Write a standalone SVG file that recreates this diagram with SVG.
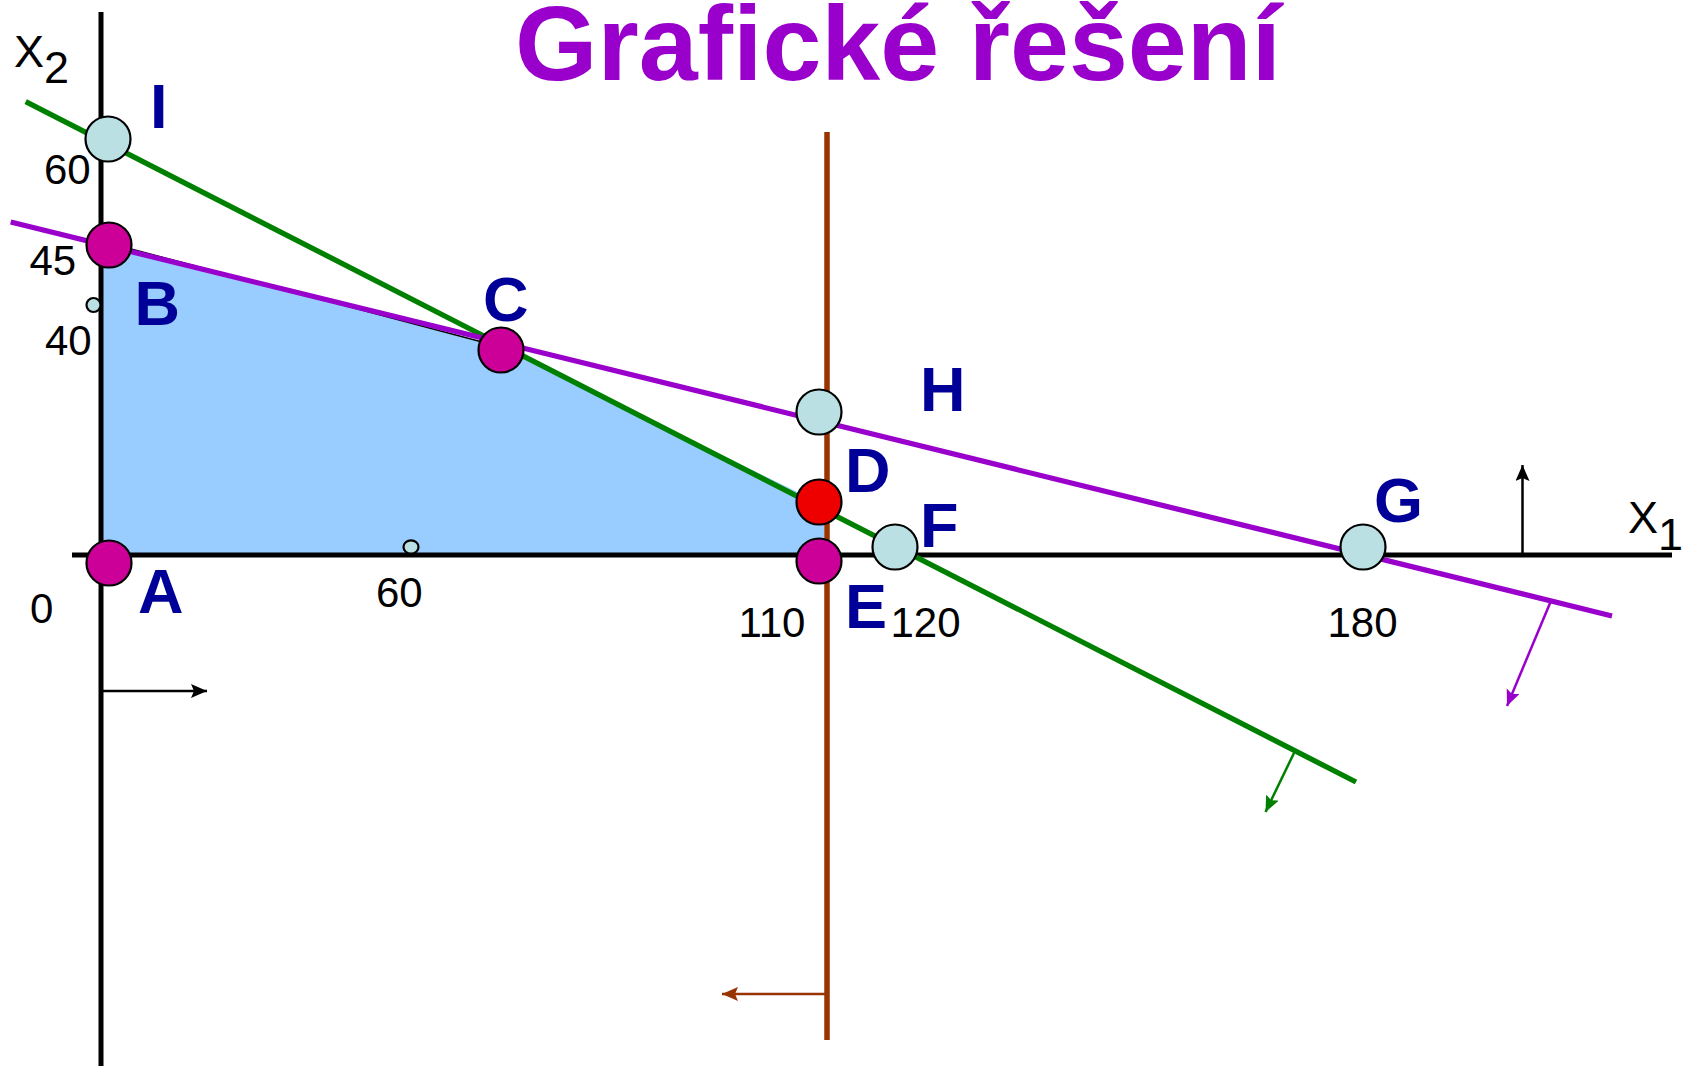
<svg xmlns="http://www.w3.org/2000/svg" width="1683" height="1066" viewBox="0 0 1683 1066">
<style>
.axis{stroke:#000;stroke-width:5;fill:none}
.lbl{font-family:"Liberation Sans",Arial,sans-serif;font-weight:bold;font-size:63px;fill:#000099}
.tick{font-family:"Liberation Sans",Arial,sans-serif;font-size:42px;fill:#000}
.ax{font-family:"Liberation Sans",Arial,sans-serif;font-size:45px;fill:#000}
.pt{stroke:#000;stroke-width:2.2}
.cyan{fill:#BBE0E3}
.mag{fill:#CC0099}
.red{fill:#EE0000}
</style>
<defs>
<marker id="mBlack" markerUnits="userSpaceOnUse" markerWidth="18" markerHeight="16" refX="16" refY="7" orient="auto"><path d="M0,0 L16,7 L0,14 L3,7 z" fill="#000"/></marker>
<marker id="mBrown" markerUnits="userSpaceOnUse" markerWidth="18" markerHeight="16" refX="16" refY="7" orient="auto"><path d="M0,0 L16,7 L0,14 L3,7 z" fill="#993300"/></marker>
<marker id="mGreen" markerUnits="userSpaceOnUse" markerWidth="18" markerHeight="16" refX="16" refY="7" orient="auto"><path d="M0,0 L16,7 L0,14 L3,7 z" fill="#008000"/></marker>
<marker id="mPurple" markerUnits="userSpaceOnUse" markerWidth="18" markerHeight="16" refX="16" refY="7" orient="auto"><path d="M0,0 L16,7 L0,14 L3,7 z" fill="#9900CC"/></marker>
</defs>
<rect width="1683" height="1066" fill="#fff"/>
<text x="898" y="80" text-anchor="middle" font-family="Liberation Sans, Arial, sans-serif" font-weight="bold" font-size="106" fill="#9900CC">Grafické řešení</text>
<g id="feasible-region">
<polygon points="101,555 101,241 501,347 824,505 824,555" fill="#99CCFF"/>
<line x1="101" y1="241" x2="501" y2="347" stroke="#000" stroke-width="1.5"/>
</g>
<g id="connectors">
<line class="axis" x1="101" y1="12" x2="101" y2="1066"/>
<line class="axis" x1="72" y1="555" x2="1672" y2="555"/>
<line x1="827" y1="132" x2="827" y2="1040" stroke="#993300" stroke-width="5.5"/>
<line x1="25.7" y1="101.7" x2="1356" y2="782" stroke="#008000" stroke-width="5.3"/>
<line x1="10.7" y1="222" x2="1612" y2="616" stroke="#9900CC" stroke-width="5.3"/>
<line x1="103" y1="691" x2="207" y2="691" stroke="#000" stroke-width="2.5" marker-end="url(#mBlack)"/>
<line x1="827" y1="994" x2="722" y2="994" stroke="#993300" stroke-width="2.5" marker-end="url(#mBrown)"/>
<line x1="1294" y1="753" x2="1265.5" y2="812" stroke="#008000" stroke-width="2.5" marker-end="url(#mGreen)"/>
<line x1="1550.5" y1="602" x2="1507" y2="706" stroke="#9900CC" stroke-width="2.5" marker-end="url(#mPurple)"/>
<line x1="1522.5" y1="553" x2="1522.5" y2="465" stroke="#000" stroke-width="2.5" marker-end="url(#mBlack)"/>
</g>
<g id="axis-labels">
<text class="ax" x="14" y="67">X<tspan dy="16">2</tspan></text>
<text class="ax" x="1628" y="533">X<tspan dy="17">1</tspan></text>
<text class="tick" x="44" y="184">60</text>
<text class="tick" x="29.5" y="275">45</text>
<text class="tick" x="45" y="355">40</text>
<text class="tick" x="30" y="623">0</text>
<text class="tick" x="376" y="607">60</text>
<text class="tick" x="738.5" y="637">110</text>
<text class="tick" x="890.5" y="637">120</text>
<text class="tick" x="1327.5" y="637">180</text>
</g>
<g id="marks">
<ellipse class="pt cyan" cx="93.5" cy="305" rx="7" ry="7" stroke-width="1.5"/>
<ellipse class="pt cyan" cx="411" cy="547" rx="7.5" ry="6.7" stroke-width="1.5"/>
</g>
<g id="node-I"><circle class="pt cyan" cx="108" cy="139" r="22.5"/><text class="lbl" x="150" y="128">I</text></g>
<g id="node-B"><circle class="pt mag" cx="109" cy="245" r="22.5"/><text class="lbl" x="134.5" y="325">B</text></g>
<g id="node-C"><circle class="pt mag" cx="501" cy="350" r="22.5"/><text class="lbl" x="483" y="321">C</text></g>
<g id="node-H"><circle class="pt cyan" cx="819" cy="412" r="22.5"/><text class="lbl" x="920" y="411">H</text></g>
<g id="node-D"><circle class="pt red" cx="819" cy="502" r="22.5"/><text class="lbl" x="845" y="492">D</text></g>
<g id="node-E"><circle class="pt mag" cx="819" cy="561" r="22.5"/><text class="lbl" x="845" y="628">E</text></g>
<g id="node-F"><circle class="pt cyan" cx="895" cy="547" r="22.5"/><text class="lbl" x="920" y="547">F</text></g>
<g id="node-G"><circle class="pt cyan" cx="1363" cy="547" r="22.5"/><text class="lbl" x="1374" y="522">G</text></g>
<g id="node-A"><circle class="pt mag" cx="109" cy="563" r="22.5"/><text class="lbl" x="138" y="613">A</text></g>
</svg>
